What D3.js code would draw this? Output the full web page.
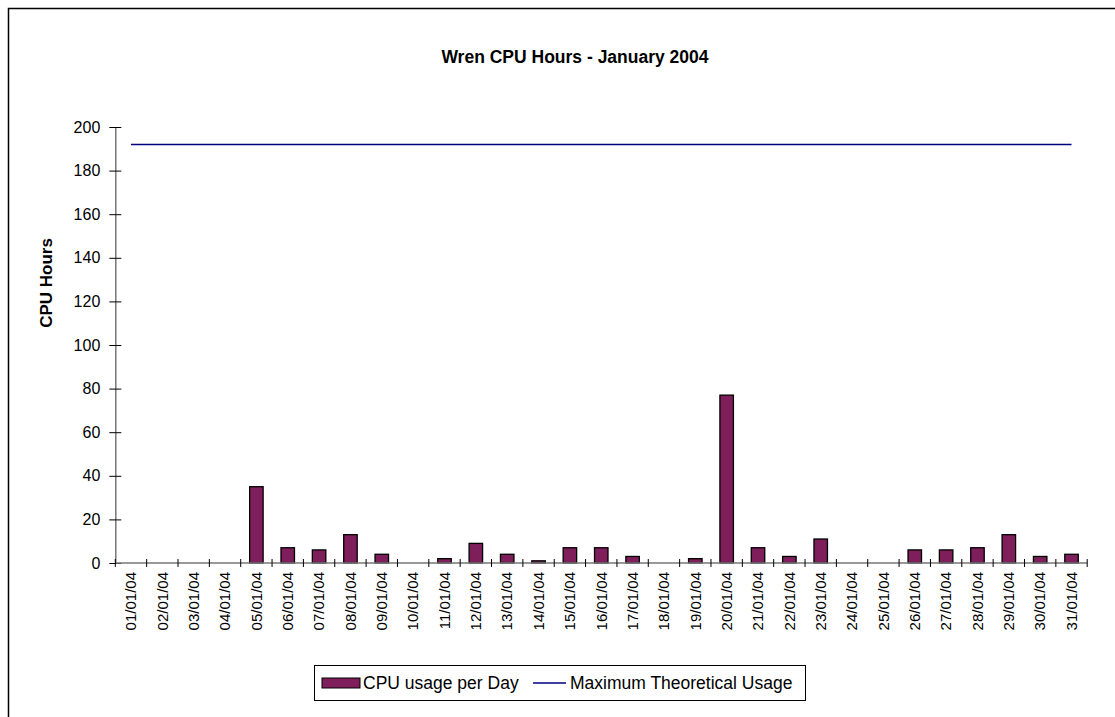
<!DOCTYPE html>
<html>
<head>
<meta charset="utf-8">
<script src="https://cdn.jsdelivr.net/npm/d3@7"></script>
<style>
	body { margin: 0; background: #fff; }
	text { font-family: 'Liberation Sans', Arial, sans-serif; }
</style>
</head>
<body>
<svg id="chart" width="1115" height="717"></svg>
<script>
var days = ['01/01/04', '02/01/04', '03/01/04', '04/01/04', '05/01/04', '06/01/04', '07/01/04', '08/01/04',
	'09/01/04', '10/01/04', '11/01/04', '12/01/04', '13/01/04', '14/01/04', '15/01/04', '16/01/04',
	'17/01/04', '18/01/04', '19/01/04', '20/01/04', '21/01/04', '22/01/04', '23/01/04', '24/01/04',
	'25/01/04', '26/01/04', '27/01/04', '28/01/04', '29/01/04', '30/01/04', '31/01/04'];
var cpuHours = [0, 0, 0, 0, 35, 7, 6, 13, 4, 0, 2, 9, 4, 1, 7, 7, 3, 0, 2, 77, 7, 3, 11, 0, 0, 6, 6, 7, 13, 3, 4];
var maxUsage = days.map(function() { return 192; });
var yTicks = [0, 20, 40, 60, 80, 100, 120, 140, 160, 180, 200];

var svg = d3.select('#chart');

var colors = { bar: '#7e1e5a', line: '#000080', axis: '#777' };

// outer chart frame (right/bottom edges are off the picture)
svg.append('rect').attr('x', 8.5).attr('y', 8.5).attr('width', 1120).attr('height', 720)
	.attr('fill', 'none').attr('stroke', '#000').attr('stroke-width', 1.5);

var scaleX = d3.scaleBand().domain(days).range([115.3, 1087.2]).padding(0);
var scaleY = d3.scaleLinear().domain([0, 200]).range([563, 127]);
var barW = scaleX.bandwidth() * 0.43;

// title
svg.append('text').attr('x', 575).attr('y', 63).attr('text-anchor', 'middle')
	.style('font-size', '17.5px').style('font-weight', 'bold').text('Wren CPU Hours - January 2004');

// y axis
var yAxis = d3.axisLeft(scaleY).tickValues(yTicks).tickSizeInner(6).tickSizeOuter(0).tickPadding(6);
var gy = svg.append('g').attr('transform', 'translate(115.3,0)').call(yAxis);
gy.select('.domain').attr('stroke', colors.axis).attr('stroke-width', 1.5);
gy.selectAll('.tick line').attr('x2', 6).attr('x1', -6).attr('stroke', '#000');
gy.selectAll('.tick text').style('font-size', '16px').attr('fill', '#000').attr('x', -15);

svg.append('text').attr('transform', 'translate(52,283) rotate(-90)').attr('text-anchor', 'middle')
	.style('font-size', '17px').style('font-weight', 'bold').text('CPU Hours');

// bars
svg.append('g').selectAll('rect').data(cpuHours).enter().append('rect')
	.attr('x', function(d, i) { return scaleX(days[i]) + (scaleX.bandwidth() - barW) / 2; })
	.attr('y', function(d) { return scaleY(d); })
	.attr('width', barW)
	.attr('height', function(d) { return scaleY(0) - scaleY(d); })
	.attr('fill', colors.bar).attr('stroke', '#000').attr('stroke-width', 1.3);

// x axis: line, ticks between categories, rotated labels
var gx = svg.append('g');
gx.append('line').attr('x1', scaleX.range()[0]).attr('x2', scaleX.range()[1])
	.attr('y1', scaleY(0)).attr('y2', scaleY(0)).attr('stroke', colors.axis).attr('stroke-width', 1.5);
var edges = days.map(function(d) { return scaleX(d); }).concat([scaleX.range()[1]]);
gx.selectAll('line.tk').data(edges).enter().append('line').attr('class', 'tk')
	.attr('x1', function(d) { return d; }).attr('x2', function(d) { return d; })
	.attr('y1', scaleY(0) - 4).attr('y2', scaleY(0) + 4).attr('stroke', '#000');
gx.selectAll('text').data(days).enter().append('text')
	.attr('transform', function(d) { return 'translate(' + (scaleX(d) + scaleX.bandwidth() / 2) + ',' + (scaleY(0) + 9) + ') rotate(-90)'; })
	.attr('text-anchor', 'end').attr('dy', '0.35em').style('font-size', '15px').text(function(d) { return d; });

// maximum theoretical usage line
var line = d3.line()
	.x(function(d, i) { return scaleX(days[i]) + scaleX.bandwidth() / 2; })
	.y(function(d) { return scaleY(d); });
svg.append('path').datum(maxUsage).attr('d', line).attr('fill', 'none')
	.attr('stroke', colors.line).attr('stroke-width', 1.5);

// legend
var lg = svg.append('g');
lg.append('rect').attr('x', 314.5).attr('y', 665.5).attr('width', 491).attr('height', 35)
	.attr('fill', '#fff').attr('stroke', '#000').attr('stroke-width', 1);
lg.append('rect').attr('x', 322).attr('y', 678).attr('width', 38).attr('height', 10)
	.attr('fill', colors.bar).attr('stroke', '#000').attr('stroke-width', 1);
lg.append('text').attr('x', 363).attr('y', 689).style('font-size', '17.5px').text('CPU usage per Day');
lg.append('line').attr('x1', 533).attr('x2', 566).attr('y1', 683).attr('y2', 683)
	.attr('stroke', colors.line).attr('stroke-width', 1.5);
lg.append('text').attr('x', 570).attr('y', 689).style('font-size', '17.5px').text('Maximum Theoretical Usage');
</script>
</body>
</html>
